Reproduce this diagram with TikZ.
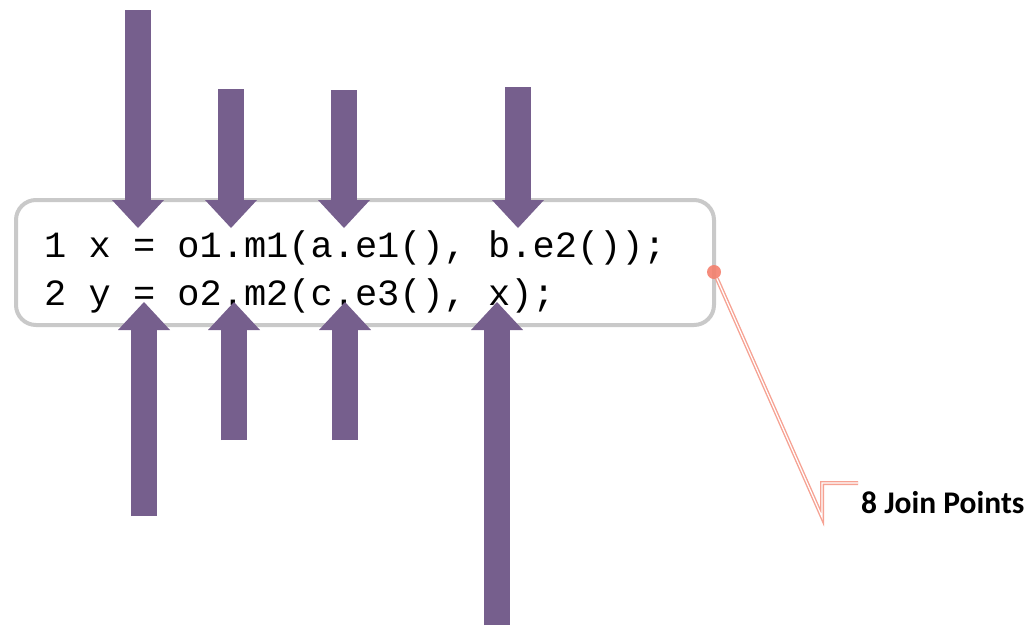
\documentclass[tikz,border=0pt]{standalone}
\usepackage{fontspec}
\newfontfamily\codefont{Liberation Mono}
\newfontfamily\lblfont{Carlito}
\usepackage{xcolor}
\definecolor{plum}{HTML}{765F8D}
\definecolor{frame}{HTML}{C9C9C9}
\definecolor{salmon}{HTML}{F4806E}
\definecolor{palesalmon}{HTML}{F6A293}
\usetikzlibrary{arrows.meta,positioning,calc}
\tikzset{
  jp/.style      ={draw=plum,line width=26pt,
                   -{Triangle[length=28pt,width=52pt,line width=0pt]}},
  codebox/.style ={draw=frame,line width=4pt,rounded corners=20pt,
                   minimum width=698pt,minimum height=125pt,inner sep=0pt},
  code/.style    ={font=\codefont\fontsize{37}{44}\selectfont,
                   inner sep=0pt,anchor=base west},
  callout/.style ={draw=palesalmon,double=white,line width=1.4pt,
                   double distance=1.2pt},
  lbl/.style     ={font=\lblfont\bfseries\fontsize{31.5}{36}\selectfont,
                   inner sep=0pt,anchor=base west},
}

\begin{document}
\begin{tikzpicture}[x=1pt,y=-1pt]
\useasboundingbox (0,0) rectangle (1028,625);
% source code
\node[codebox] (box) at (365,262.5) {};
\node[code] (l1) at (44,257) {1 x = o1.m1(a.e1(), b.e2());};
\node[code] (l2) at (44,305) {2 y = o2.m2(c.e3(), x);};
% join points, line 1
\coordinate (a1) at (138,10);  \coordinate (p1) at (138,228);
\coordinate (a2) at (231,89);  \coordinate (p2) at (231,228);
\coordinate (a3) at (344,90);  \coordinate (p3) at (344,228);
\coordinate (a4) at (518,87);  \coordinate (p4) at (518,228);
% join points, line 2
\coordinate (b1) at (144,516); \coordinate (q1) at (144,302);
\coordinate (b2) at (234,440); \coordinate (q2) at (234,302);
\coordinate (b3) at (345,440); \coordinate (q3) at (345,302);
\coordinate (b4) at (497,625); \coordinate (q4) at (497,302);
\foreach \i in {1,...,4}{
  \draw[jp] (a\i) -- (p\i);
  \draw[jp] (b\i) -- (q\i);
}
% callout
\node[circle,fill=salmon,fill opacity=0.9,minimum size=14pt,inner sep=0pt] (dot) at (714,272) {};
\coordinate (bend) at (822,517);
\coordinate (hook) at (822,483);
\coordinate (hookend) at (858,483);
\draw[callout] (dot) -- (bend) -- (hook) -- (hookend);
\node[lbl] (jpcount) at (861,513) {8 Join Points};
\end{tikzpicture}
\end{document}
